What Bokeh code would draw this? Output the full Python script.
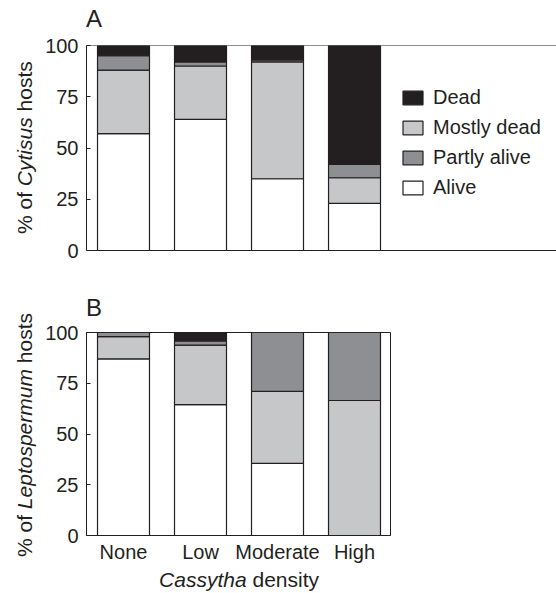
from bokeh.plotting import figure
from bokeh.models import (ColumnDataSource, Range1d, FixedTicker, Legend,
                          LegendItem, Span, Div)
from bokeh.layouts import column, row
from bokeh.embed import file_html
from bokeh.resources import INLINE

# ---- data ----
categories = ["None", "Low", "Moderate", "High"]
positions = [0, 1, 2, 3]
stack_order = ["Alive", "Mostly dead", "Partly alive", "Dead"]
legend_order = ["Dead", "Mostly dead", "Partly alive", "Alive"]
colors = {"Alive": "#ffffff", "Mostly dead": "#c6c7c9",
          "Partly alive": "#8e8f93", "Dead": "#231f20"}

cyt_alive = [57, 64, 35, 23]
cyt_mostly = [31, 26, 57, 12.5]
cyt_partly = [7, 2, 1, 6.5]
cyt_dead = [5, 8, 7, 58]

lep_alive = [87, 64.5, 35.5, 0]
lep_mostly = [11, 29.3, 35.5, 66.5]
lep_partly = [2, 2.1, 29, 33.5]
lep_dead = [0, 4.1, 0, 0]

y_ticks = [0, 25, 50, 75, 100]

FONT = "Liberation Sans"
FS = "20px"
LFS = 21  # axis-title font size, px
INK = "#231f20"
TOP = 15  # plot border above frame

ADV = {'%': 889, ' ': 278, 'o': 556, 'f': 278, 'C': 722, 'y': 500, 't': 278,
       'i': 222, 's': 500, 'u': 556, 'h': 556, 'L': 556, 'e': 556, 'p': 556,
       'r': 333, 'm': 833, 'a': 556, 'd': 556, 'n': 556}


def text_w(s, size=LFS):
    return sum(ADV.get(c, 556) for c in s) * size / 1000.0


def baseline_off(size):
    # distance from top of a line box (line-height = size) to the baseline
    return (size - 1.117 * size) / 2 + 0.905 * size


def text_div(width, height, html, left, top, size, rotate=False):
    rot = "transform-origin:0 0;transform:rotate(-90deg);" if rotate else ""
    inner = (f'<div style="position:relative;width:{width}px;height:{height}px;'
             f'margin:0;padding:0;">'
             f'<div style="position:absolute;left:{left:.1f}px;top:{top:.1f}px;'
             f'{rot}white-space:nowrap;font-family:\'{FONT}\';'
             f'font-size:{size}px;line-height:{size}px;color:{INK};">'
             f'{html}</div></div>')
    return Div(text=inner, width=width, height=height, margin=0)


def ylabel_div(height, center_y, species):
    total = text_w("% of " + species + " hosts")
    start = center_y + total / 2          # bottom end of the rotated text
    left = 32 - baseline_off(LFS)         # baseline at x = 32
    return text_div(40, height, f"% of <i>{species}</i> hosts", left, start,
                    LFS, rotate=True)


def letter_div(width, height, letter, baseline_y):
    size = 24
    return text_div(width, height, letter, 46, baseline_y - baseline_off(size),
                    size)


def panel(alive, mostly, partly, dead, width, height, x_end, border_bottom,
          border_right, show_x, legend):
    src = ColumnDataSource(dict(x=positions, **{
        "Alive": alive, "Mostly dead": mostly,
        "Partly alive": partly, "Dead": dead}))
    p = figure(width=width, height=height, output_backend="svg",
               toolbar_location=None, title=None,
               x_range=Range1d(-0.4805, x_end), y_range=Range1d(0, 100),
               min_border_left=46, min_border_right=border_right,
               min_border_top=TOP, min_border_bottom=border_bottom)
    p.background_fill_color = "white"
    p.border_fill_color = "white"
    p.xgrid.visible = False
    p.ygrid.visible = False
    rs = p.vbar_stack(stack_order, x="x", width=0.675, source=src,
                      fill_color=[colors[s] for s in stack_order],
                      line_color=INK, line_width=1.2)

    yax = p.yaxis[0]
    yax.ticker = FixedTicker(ticks=y_ticks)
    yax.major_tick_in = 4
    yax.major_tick_out = 0
    yax.minor_tick_line_color = None
    yax.major_label_text_font = FONT
    yax.major_label_text_font_size = FS
    yax.major_label_text_color = INK
    yax.major_label_standoff = 8
    yax.axis_line_color = INK
    yax.major_tick_line_color = INK

    xax = p.xaxis[0]
    xax.ticker = FixedTicker(ticks=positions if show_x else [])
    xax.major_label_overrides = {i: c for i, c in zip(positions, categories)}
    xax.major_tick_in = 0
    xax.major_tick_out = 0
    xax.minor_tick_line_color = None
    xax.axis_line_color = INK
    xax.major_label_text_font = FONT
    xax.major_label_text_font_size = FS
    xax.major_label_text_color = INK
    xax.major_label_standoff = 5

    if show_x:
        p.outline_line_color = INK
    else:
        p.outline_line_color = None
        p.add_layout(Span(location=100, dimension="width", line_color=INK,
                          line_width=1))

    if legend:
        rmap = dict(zip(stack_order, rs))
        lg = Legend(items=[LegendItem(label=n, renderers=[rmap[n]])
                           for n in legend_order],
                    location=(314, 51.5), glyph_width=25, glyph_height=17,
                    label_height=20, label_standoff=8, spacing=7,
                    padding=0, margin=0, border_line_color=None,
                    background_fill_alpha=0, label_text_font=FONT,
                    label_text_font_size=FS, label_text_color=INK)
        p.add_layout(lg)
    return p


# panel A: page rows 0-290 (letter strip 0-30, plot 30-290, frame 45-250)
pA = panel(cyt_alive, cyt_mostly, cyt_partly, cyt_dead, 516, 260, 5.623,
           40, 0, False, True)
rowA = row(ylabel_div(290, 147.5, "Cytisus"),
           column(letter_div(516, 45 - TOP, "A", 27), pA))

# panel B: page rows 290-565 (letter strip 290-317, frame 332-537)
pB = panel(lep_alive, lep_mostly, lep_partly, lep_dead, 355, 248, 3.4675,
           28, 5, True, False)
rowB = row(ylabel_div(275, 435 - 290, "Leptospermum"),
           column(letter_div(355, 332 - TOP - 290, "B", 316 - 290), pB))

# x-axis title: page rows 565-593
tot = text_w("Cassytha density")
xdiv = text_div(395, 28, "<i>Cassytha</i> density", 239 - tot / 2,
                586.5 - 565 - baseline_off(LFS), LFS)

layout = column(rowA, rowB, xdiv)
open("out.html", "w").write(file_html(layout, INLINE))
